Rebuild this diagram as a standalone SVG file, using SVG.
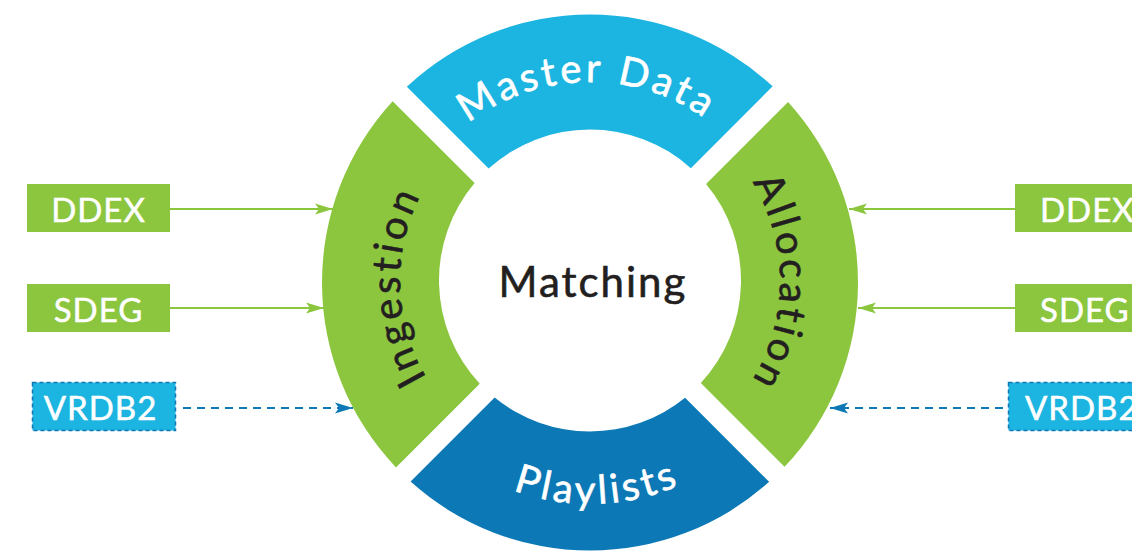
<svg xmlns="http://www.w3.org/2000/svg" width="1132" height="551" viewBox="0 0 1132 551">
<style>
.seg-green{fill:#8cc63f}
.seg-light{fill:#1cb4e0}
.seg-dark{fill:#0c79b6}
.ring-txt{font-family:Lato,"Open Sans",sans-serif;font-size:40px;letter-spacing:3.5px;stroke-width:0.6px}
.txt-white{fill:#fff;stroke:#fff}
.txt-dark{fill:#231f20;stroke:#231f20}
.box-green{fill:#8cc63f}
.box-blue{fill:#1cb4e0;stroke:#0c79b6;stroke-width:1.5;stroke-dasharray:4 3}
.box-txt{font-family:Lato,"Open Sans",sans-serif;font-size:33px;letter-spacing:1px;fill:#fff;stroke:#fff;stroke-width:0.5px}
.conn-green{stroke:#8cc63f;stroke-width:2;fill:none}
.conn-blue{stroke:#0c79b6;stroke-width:2;fill:none;stroke-dasharray:8 6}
</style>
<defs>
<marker id="ah-green" markerUnits="userSpaceOnUse" markerWidth="18" markerHeight="12" refX="18" refY="6" orient="auto">
<path d="M0,0.5 L18,6 L0,11.5 L4,6 Z" fill="#8cc63f"/>
</marker>
<marker id="ah-blue" markerUnits="userSpaceOnUse" markerWidth="18" markerHeight="12" refX="18" refY="6" orient="auto">
<path d="M0,0.5 L18,6 L0,11.5 L4,6 Z" fill="#0c79b6"/>
</marker>
<path id="arc-md" d="M 391 281 A 199 199 0 0 1 789 281"/>
<path id="arc-pl" d="M 367 281 A 223 223 0 0 0 813 281"/>
<path id="arc-in" d="M 590 471 A 190 190 0 0 1 590 91"/>
<path id="arc-al" d="M 590 91 A 190 190 0 0 1 590 471"/>
</defs>

<g id="master-data">
<path class="seg-light" d="M 406.85 86.85 A 268 268 0 0 1 772.63 86.37 L 690.87 168.13 A 151 151 0 0 0 488.61 168.61 Z"/>
<text class="ring-txt txt-white" text-anchor="middle"><textPath href="#arc-md" startOffset="49.5%">Master Data</textPath></text>
</g>
<g id="allocation">
<path class="seg-green" d="M 788.05 101.95 A 268 268 0 0 1 784.54 466.84 L 700.8 383.1 A 151 151 0 0 0 706.07 183.93 Z"/>
<text class="ring-txt txt-dark" text-anchor="middle"><textPath href="#arc-al" startOffset="50.3%">Allocation</textPath></text>
</g>
<g id="playlists">
<path class="seg-dark" d="M 769.14 481.84 A 268 268 0 0 1 410.6 481.6 L 494.63 397.57 A 151 151 0 0 0 685.1 397.8 Z"/>
<text class="ring-txt txt-white" text-anchor="middle"><textPath href="#arc-pl" startOffset="51.1%">Playlists</textPath></text>
</g>
<g id="ingestion">
<path class="seg-green" d="M 396.0 467.4 A 268 268 0 0 1 392.67 101.17 L 474.61 183.11 A 151 151 0 0 0 479.73 383.67 Z"/>
<text class="ring-txt txt-dark" text-anchor="middle"><textPath href="#arc-in" startOffset="49.1%">Ingestion</textPath></text>
</g>
<g id="matching">
<text x="593" y="297" text-anchor="middle" font-family="Lato,'Open Sans',sans-serif" font-size="42" letter-spacing="2" fill="#231f20" stroke="#231f20" stroke-width="0.6">Matching</text>
</g>

<g id="ddex-left">
<rect class="box-green" x="27" y="184" width="143" height="48"/>
<text class="box-txt" x="98.5" y="221.5" text-anchor="middle">DDEX</text>
</g>
<g id="sdeg-left">
<rect class="box-green" x="27" y="284" width="143" height="48"/>
<text class="box-txt" x="98.5" y="321.5" text-anchor="middle">SDEG</text>
</g>
<g id="vrdb2-left">
<rect class="box-blue" x="32.5" y="382.5" width="143" height="48"/>
<text class="box-txt" x="100.5" y="420" text-anchor="middle">VRDB2</text>
</g>
<g id="ddex-right">
<rect class="box-green" x="1015" y="184" width="143" height="48"/>
<text class="box-txt" x="1040" y="221.5">DDEX</text>
</g>
<g id="sdeg-right">
<rect class="box-green" x="1015" y="284" width="143" height="48"/>
<text class="box-txt" x="1040" y="321.5">SDEG</text>
</g>
<g id="vrdb2-right">
<rect class="box-blue" x="1008.5" y="382.5" width="143" height="48"/>
<text class="box-txt" x="1025" y="420">VRDB2</text>
</g>

<g id="connectors">
<line class="conn-green" x1="170" y1="209" x2="333" y2="209" marker-end="url(#ah-green)"/>
<line class="conn-green" x1="170" y1="308" x2="324" y2="308" marker-end="url(#ah-green)"/>
<line class="conn-blue" x1="183" y1="408" x2="353" y2="408" marker-end="url(#ah-blue)"/>
<line class="conn-green" x1="1015" y1="209" x2="849" y2="209" marker-end="url(#ah-green)"/>
<line class="conn-green" x1="1015" y1="308" x2="858" y2="308" marker-end="url(#ah-green)"/>
<line class="conn-blue" x1="1003" y1="408" x2="830" y2="408" marker-end="url(#ah-blue)"/>
</g>
</svg>
